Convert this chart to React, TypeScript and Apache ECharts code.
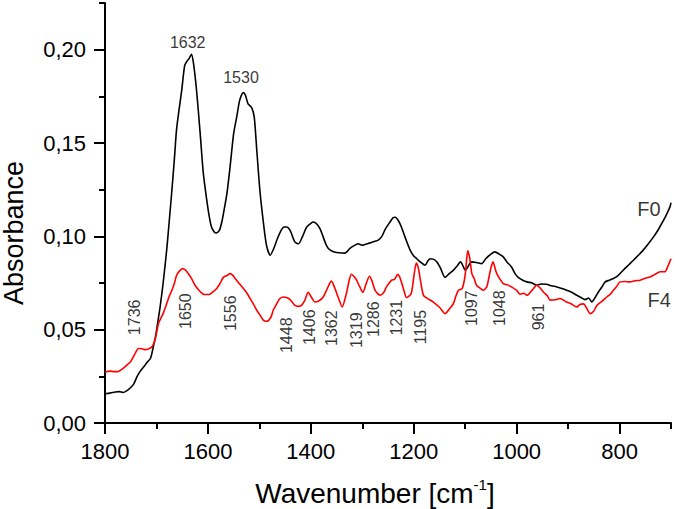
import React, { useEffect, useRef } from 'react';
import * as echarts from 'echarts';

// ---- Data ----
const f0Wavenumbers = [
  1800, 1790, 1780, 1772, 1765, 1758, 1750, 1744, 1738, 1732, 1725, 1718, 1712, 1710, 1706, 1702, 1698, 1693, 1687, 1680,
  1675, 1670, 1665, 1661, 1656, 1651, 1645, 1640, 1636, 1632, 1628, 1622, 1615, 1609, 1602, 1597, 1593, 1588, 1584, 1578,
  1573, 1568, 1563, 1557, 1550, 1544, 1539, 1535, 1531, 1527, 1522, 1515, 1510, 1505, 1499, 1492, 1486, 1479, 1472, 1466,
  1458, 1452, 1447, 1440, 1431, 1424, 1416, 1408, 1400, 1395, 1388, 1382, 1376, 1371, 1366, 1356, 1345, 1334, 1324, 1316,
  1308, 1300, 1295, 1285, 1277, 1269, 1262, 1255, 1246, 1240, 1236, 1230, 1224, 1217, 1207, 1200, 1194, 1186, 1178, 1172,
  1168, 1162, 1155, 1148, 1139, 1131, 1123, 1116, 1109, 1104, 1100, 1094, 1088, 1078, 1068, 1060, 1050, 1042, 1034, 1026,
  1018, 1010, 1003, 997, 988, 980, 970, 961, 952, 942, 932, 922, 912, 903, 893, 883, 875, 867, 860, 854,
  848, 841, 834, 828, 820, 812, 803, 793, 783, 773, 763, 754, 744, 734, 726, 718, 710, 702, 700,
];
const f0Values = [
  0.0157, 0.016, 0.0166, 0.0168, 0.0163, 0.0172, 0.019, 0.021, 0.0247, 0.0275, 0.03, 0.0325, 0.0345, 0.036, 0.041, 0.046, 0.053, 0.062, 0.075, 0.093,
  0.1086, 0.1247, 0.142, 0.157, 0.168, 0.178, 0.1917, 0.194, 0.1955, 0.1975, 0.1926, 0.178, 0.155, 0.134, 0.119, 0.11, 0.105, 0.1025, 0.1018, 0.103,
  0.1077, 0.115, 0.123, 0.137, 0.155, 0.164, 0.172, 0.1755, 0.177, 0.1755, 0.171, 0.169, 0.164, 0.146, 0.1247, 0.107, 0.095, 0.0899, 0.0935, 0.098,
  0.103, 0.105, 0.105, 0.103, 0.097, 0.096, 0.1, 0.105, 0.107, 0.1077, 0.1065, 0.104, 0.0997, 0.096, 0.0935, 0.0917, 0.0912, 0.091, 0.0935, 0.095,
  0.096, 0.0952, 0.0956, 0.0965, 0.0972, 0.098, 0.1, 0.104, 0.1077, 0.11, 0.1102, 0.1085, 0.105, 0.0997, 0.0926, 0.0895, 0.088, 0.086, 0.0845, 0.087,
  0.088, 0.0878, 0.0863, 0.083, 0.078, 0.08, 0.0818, 0.084, 0.0863, 0.084, 0.0818, 0.084, 0.0863, 0.086, 0.0854, 0.088, 0.0905, 0.0917, 0.0905, 0.089,
  0.086, 0.0836, 0.08, 0.078, 0.0765, 0.0756, 0.075, 0.0738, 0.0745, 0.0743, 0.0735, 0.0729, 0.072, 0.0711, 0.07, 0.0684, 0.0672, 0.0661, 0.067, 0.0648,
  0.067, 0.0702, 0.073, 0.0756, 0.0765, 0.0774, 0.079, 0.0818, 0.0845, 0.0872, 0.09, 0.0926, 0.096, 0.0997, 0.103, 0.1069, 0.111, 0.1158, 0.118,
];

const f4Wavenumbers = [
  1800, 1790, 1782, 1774, 1766, 1758, 1750, 1745, 1740, 1735, 1728, 1722, 1715, 1709, 1703, 1696, 1690, 1687, 1680, 1675,
  1670, 1665, 1661, 1655, 1649, 1644, 1638, 1632, 1625, 1617, 1609, 1602, 1596, 1589, 1583, 1576, 1570, 1563, 1557, 1552,
  1547, 1540, 1531, 1524, 1518, 1512, 1505, 1498, 1492, 1486, 1482, 1477, 1473, 1466, 1460, 1453, 1447, 1440, 1431, 1424,
  1418, 1412, 1405, 1398, 1392, 1384, 1376, 1368, 1360, 1353, 1347, 1339, 1331, 1325, 1321, 1316, 1311, 1305, 1299, 1292,
  1286, 1281, 1275, 1265, 1258, 1253, 1243, 1237, 1231, 1227, 1223, 1218, 1214, 1205, 1200, 1195, 1191, 1187, 1181, 1172,
  1162, 1150, 1139, 1131, 1123, 1118, 1113, 1106, 1102, 1099, 1095, 1091, 1087, 1082, 1078, 1070, 1065, 1058, 1055, 1050,
  1046, 1040, 1035, 1026, 1018, 1010, 1000, 993, 986, 980, 972, 966, 961, 955, 948, 940, 935, 925, 916, 910,
  903, 895, 883, 877, 870, 863, 857, 850, 844, 835, 825, 818, 812, 806, 799, 790, 780, 770, 760, 750,
  741, 732, 721, 712, 706, 700,
];
const f4Values = [
  0.0273, 0.0278, 0.0275, 0.0276, 0.029, 0.0309, 0.033, 0.0354, 0.038, 0.0399, 0.0398, 0.0393, 0.0398, 0.0407, 0.0443, 0.0533, 0.057, 0.0586, 0.064, 0.068,
  0.0711, 0.075, 0.079, 0.0815, 0.0827, 0.082, 0.08, 0.0775, 0.0738, 0.071, 0.069, 0.0688, 0.069, 0.0705, 0.072, 0.075, 0.078, 0.079, 0.08, 0.0792,
  0.0774, 0.075, 0.072, 0.0695, 0.0667, 0.064, 0.0604, 0.0575, 0.055, 0.0545, 0.055, 0.057, 0.0604, 0.064, 0.0667, 0.0675, 0.0672, 0.066, 0.063, 0.0625,
  0.063, 0.0655, 0.07, 0.067, 0.0648, 0.0655, 0.0675, 0.072, 0.076, 0.072, 0.0675, 0.0622, 0.0693, 0.077, 0.0797, 0.0785, 0.0765, 0.073, 0.07, 0.075,
  0.0786, 0.076, 0.0711, 0.0684, 0.07, 0.0729, 0.0765, 0.077, 0.0797, 0.078, 0.0747, 0.07, 0.0672, 0.0693, 0.078, 0.0857, 0.083, 0.0765, 0.0684, 0.0665,
  0.0648, 0.062, 0.0586, 0.061, 0.064, 0.068, 0.0711, 0.072, 0.076, 0.0818, 0.0922, 0.088, 0.08, 0.077, 0.0738, 0.072, 0.0711, 0.0729, 0.0765, 0.083,
  0.0863, 0.081, 0.0782, 0.0747, 0.074, 0.0729, 0.071, 0.069, 0.0695, 0.0684, 0.0705, 0.0725, 0.0738, 0.0725, 0.0702, 0.068, 0.0658, 0.066, 0.0667, 0.066,
  0.0648, 0.064, 0.0622, 0.0635, 0.0638, 0.061, 0.0586, 0.06, 0.063, 0.065, 0.0675, 0.069, 0.0711, 0.073, 0.0756, 0.0758, 0.0756, 0.0762, 0.0765, 0.0775,
  0.0782, 0.0795, 0.081, 0.081, 0.084, 0.088,
];

// Peak annotations: text, label-centre wavenumber, label-centre absorbance
const peakTexts = ['1736', '1650', '1556', '1448', '1406', '1362', '1319', '1286', '1231', '1195', '1097', '1048', '961'];
const peakLabelX = [1741.7, 1644.5, 1557, 1448.2, 1403.5, 1359.8, 1312, 1279, 1234.4, 1187.8, 1088.6, 1034.2, 958.4];
const peakLabelY = [0.0566, 0.0599, 0.0588, 0.047, 0.0513, 0.0508, 0.0497, 0.0556, 0.0564, 0.0514, 0.0615, 0.0615, 0.0568];

const topPeakTexts = ['1632', '1530'];
const topPeakX = [1639.3, 1535.7];
const topPeakY = [0.2039, 0.185];

const seriesNames = ['F0', 'F4'];
const seriesLabelX = [743, 723];
const seriesLabelY = [0.1145, 0.0658];

const xMajorTicks = [800, 1000, 1200, 1400, 1600, 1800];
const xMinorTicks = [700, 900, 1100, 1300, 1500, 1700];
const yMajorTicks = [0, 0.05, 0.1, 0.15, 0.2];
const yMinorTicks = [0.025, 0.075, 0.125, 0.175, 0.225];

const xAxisTitle = 'Wavenumber [cm';
const xAxisTitleSup = '-1';
const yAxisTitle = 'Absorbance';

const FONT = "'Liberation Sans', Arial, Helvetica, sans-serif";

export default function App() {
  const ref = useRef<HTMLDivElement>(null);

  useEffect(() => {
    document.body.style.margin = '0';
    if (!ref.current) return;
    const chart = echarts.init(ref.current, undefined, { renderer: 'svg' });

    const gridBox = {
      left: 105,
      right: 4,
      top: 3,
      bottom: 86,
      containLabel: false,
      outerBoundsMode: 'none',
    };
    const axisColor = '#000';

    const option: any = {
      animation: false,
      backgroundColor: '#fff',
      grid: [{ ...gridBox }, { ...gridBox }],
      xAxis: [
        {
          gridIndex: 0,
          type: 'value',
          inverse: true,
          min: 700,
          max: 1800,
          axisLine: { show: true, onZero: false, lineStyle: { color: axisColor, width: 2 } },
          axisTick: { show: true, length: 11, customValues: xMajorTicks, lineStyle: { color: axisColor, width: 2 } },
          axisLabel: {
            customValues: xMajorTicks,
            fontFamily: FONT,
            fontSize: 22,
            color: '#000',
            margin: 17,
            formatter: (v: number) => String(v),
          },
          splitLine: { show: false },
        },
        {
          gridIndex: 1,
          type: 'value',
          inverse: true,
          min: 700,
          max: 1800,
          axisLine: { show: false },
          axisTick: { show: true, length: 6, customValues: xMinorTicks, lineStyle: { color: axisColor, width: 2 } },
          axisLabel: { show: false },
          splitLine: { show: false },
        },
      ],
      yAxis: [
        {
          gridIndex: 0,
          type: 'value',
          min: 0,
          max: 0.225,
          axisLine: { show: true, onZero: false, lineStyle: { color: axisColor, width: 2 } },
          axisTick: { show: true, length: 11, customValues: yMajorTicks, lineStyle: { color: axisColor, width: 2 } },
          axisLabel: {
            customValues: yMajorTicks,
            fontFamily: FONT,
            fontSize: 22,
            color: '#000',
            margin: 19,
            formatter: (v: number) => v.toFixed(2).replace('.', ','),
          },
          splitLine: { show: false },
        },
        {
          gridIndex: 1,
          type: 'value',
          min: 0,
          max: 0.225,
          axisLine: { show: false },
          axisTick: { show: true, length: 6, customValues: yMinorTicks, lineStyle: { color: axisColor, width: 2 } },
          axisLabel: { show: false },
          splitLine: { show: false },
        },
      ],
      graphic: [
        {
          type: 'text',
          x: 14,
          y: 233,
          rotation: Math.PI / 2,
          silent: true,
          style: {
            text: yAxisTitle,
            fill: '#000',
            font: `27px ${FONT}`,
            textAlign: 'center',
            textVerticalAlign: 'middle',
          },
        },
        {
          type: 'text',
          x: 375,
          y: 493,
          silent: true,
          style: {
            text: `{a|${xAxisTitle}}{b|${xAxisTitleSup}}{a|]}`,
            fill: '#000',
            font: `28px ${FONT}`,
            textAlign: 'center',
            textVerticalAlign: 'middle',
            rich: {
              a: { fontFamily: FONT, fontSize: 28, lineHeight: 32, fill: '#000' },
              b: { fontFamily: FONT, fontSize: 15, lineHeight: 16, verticalAlign: 'top', fill: '#000' },
            },
          },
        },
      ],
      series: [
        {
          name: 'F0',
          type: 'line',
          xAxisIndex: 0,
          yAxisIndex: 0,
          data: f0Wavenumbers.map((w, i) => [w, f0Values[i]]),
          showSymbol: false,
          symbol: 'none',
          smooth: 0.25,
          lineStyle: { color: '#000', width: 1.6 },
          z: 3,
        },
        {
          name: 'F4',
          type: 'line',
          xAxisIndex: 0,
          yAxisIndex: 0,
          data: f4Wavenumbers.map((w, i) => [w, f4Values[i]]),
          showSymbol: false,
          symbol: 'none',
          smooth: 0.25,
          lineStyle: { color: '#ff0000', width: 1.6 },
          z: 4,
        },
        {
          name: 'peaks',
          type: 'scatter',
          xAxisIndex: 0,
          yAxisIndex: 0,
          symbolSize: 0,
          silent: true,
          data: peakTexts.map((t, i) => ({ name: t, value: [peakLabelX[i], peakLabelY[i]] })),
          label: {
            show: true,
            position: 'inside',
            rotate: 90,
            formatter: (p: any) => p.name,
            fontFamily: FONT,
            fontSize: 16,
            color: '#000',
            align: 'center',
            verticalAlign: 'middle',
          },
          z: 5,
        },
        {
          name: 'topPeaks',
          type: 'scatter',
          xAxisIndex: 0,
          yAxisIndex: 0,
          symbolSize: 0,
          silent: true,
          data: topPeakTexts.map((t, i) => ({ name: t, value: [topPeakX[i], topPeakY[i]] })),
          label: {
            show: true,
            position: 'inside',
            formatter: (p: any) => p.name,
            fontFamily: FONT,
            fontSize: 16,
            color: '#000',
            align: 'center',
            verticalAlign: 'middle',
          },
          z: 5,
        },
        {
          name: 'seriesLabels',
          type: 'scatter',
          xAxisIndex: 0,
          yAxisIndex: 0,
          symbolSize: 0,
          silent: true,
          data: seriesNames.map((t, i) => ({ name: t, value: [seriesLabelX[i], seriesLabelY[i]] })),
          label: {
            show: true,
            position: 'inside',
            formatter: (p: any) => p.name,
            fontFamily: FONT,
            fontSize: 20,
            color: '#000',
            align: 'center',
            verticalAlign: 'middle',
          },
          z: 5,
        },
      ],
    };

    chart.setOption(option);
    return () => chart.dispose();
  }, []);

  return (
    <div
      ref={ref}
      style={{ position: 'fixed', left: 0, top: 0, width: 675, height: 509, background: '#fff' }}
    />
  );
}
